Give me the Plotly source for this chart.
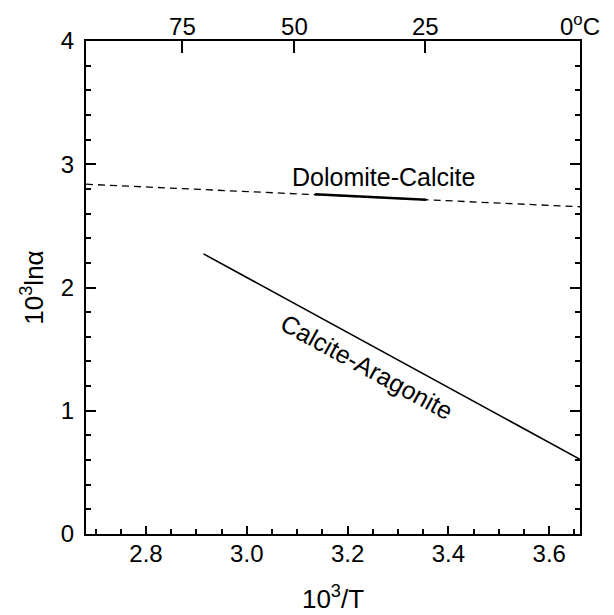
import plotly.graph_objects as go

# Data
dolo_x = [2.681, 3.661]
dolo_y = [2.838, 2.655]
dolo_solid_x = [3.135, 3.356]
dolo_solid_y = [2.757, 2.712]
cal_arag_x = [2.914, 3.661]
cal_arag_y = [2.273, 0.606]
top_temps_c = [75, 50, 25, 0]
top_labels = ["75", "50", "25", "0<sup>o</sup>C"]
top_pos = [1000.0 / (t + 273.15) for t in top_temps_c]

FONT = "Liberation Sans"
FS = 24
FA = 25
FT = 26
fig = go.Figure()
fig.add_trace(go.Scatter(x=dolo_x, y=dolo_y, mode="lines",
                         line=dict(color="black", width=1.3, dash="7px,5px"),
                         showlegend=False, hoverinfo="skip"))
fig.add_trace(go.Scatter(x=dolo_solid_x, y=dolo_solid_y, mode="lines",
                         line=dict(color="black", width=2.6),
                         showlegend=False, hoverinfo="skip"))
fig.add_trace(go.Scatter(x=cal_arag_x, y=cal_arag_y, mode="lines",
                         line=dict(color="black", width=1.6),
                         showlegend=False, hoverinfo="skip"))
fig.add_trace(go.Scatter(x=[top_pos[0]], y=[None], xaxis="x2", mode="markers",
                         showlegend=False, hoverinfo="skip"))

xr = [2.681, 3.661]
fig.update_layout(
    width=614, height=615,
    margin=dict(l=86, r=34, t=41, b=81, autoexpand=False),
    paper_bgcolor="white", plot_bgcolor="white",
    font=dict(family=FONT, size=FS, color="black"),
    showlegend=False,
    xaxis=dict(range=xr, tickvals=[2.8, 3.0, 3.2, 3.4, 3.6],
               ticktext=["2.8", "3.0", "3.2", "3.4", "3.6"],
               ticks="inside", ticklen=8, tickwidth=1.5, tickcolor="black",
               minor=dict(dtick=0.05, tick0=2.7, ticks="inside", ticklen=5, tickwidth=1.5, tickcolor="black"),
               showline=True, linecolor="black", linewidth=2, mirror=True,
               showgrid=False, zeroline=False, automargin=False,
               ticklabelstandoff=-3,
               title=dict(text="10<sup>3</sup>/T", standoff=24, font=dict(size=FT, family=FONT)),
               tickfont=dict(size=FS, family=FONT)),
    xaxis2=dict(range=xr, overlaying="x", side="top", anchor="y",
                tickvals=top_pos, ticktext=top_labels,
                ticks="inside", ticklen=12, tickwidth=1.5, tickcolor="black",
                showline=True, linecolor="black", linewidth=2, automargin=False,
                ticklabelstandoff=-6,
                showgrid=False, zeroline=False, tickfont=dict(size=FS, family=FONT)),
    yaxis=dict(range=[0, 4], dtick=1, tick0=0,
               ticks="inside", ticklen=10, tickwidth=1.5, tickcolor="black",
               minor=dict(dtick=0.2, ticks="inside", ticklen=5, tickwidth=1.5, tickcolor="black"),
               showline=True, linecolor="black", linewidth=2, mirror="ticks",
               showgrid=False, zeroline=False, automargin=False,
               ticklabelstandoff=5,
               title=dict(text="10<sup>3</sup>lnα", standoff=10, font=dict(size=FT, family=FONT)),
               tickfont=dict(size=FS, family=FONT)),
    annotations=[
        dict(x=3.271, y=2.894, xref="x", yref="y", text="Dolomite-Calcite",
             showarrow=False, font=dict(size=FA, family=FONT)),
        dict(x=3.239, y=1.356, xref="x", yref="y", text="Calcite-Aragonite",
             showarrow=False, textangle=28.6, font=dict(size=FA, family=FONT)),
    ],
)
fig.write_html("out.html", config={"displayModeBar": False},
               post_script="document.body.style.margin='0';document.body.style.overflow='hidden';")
